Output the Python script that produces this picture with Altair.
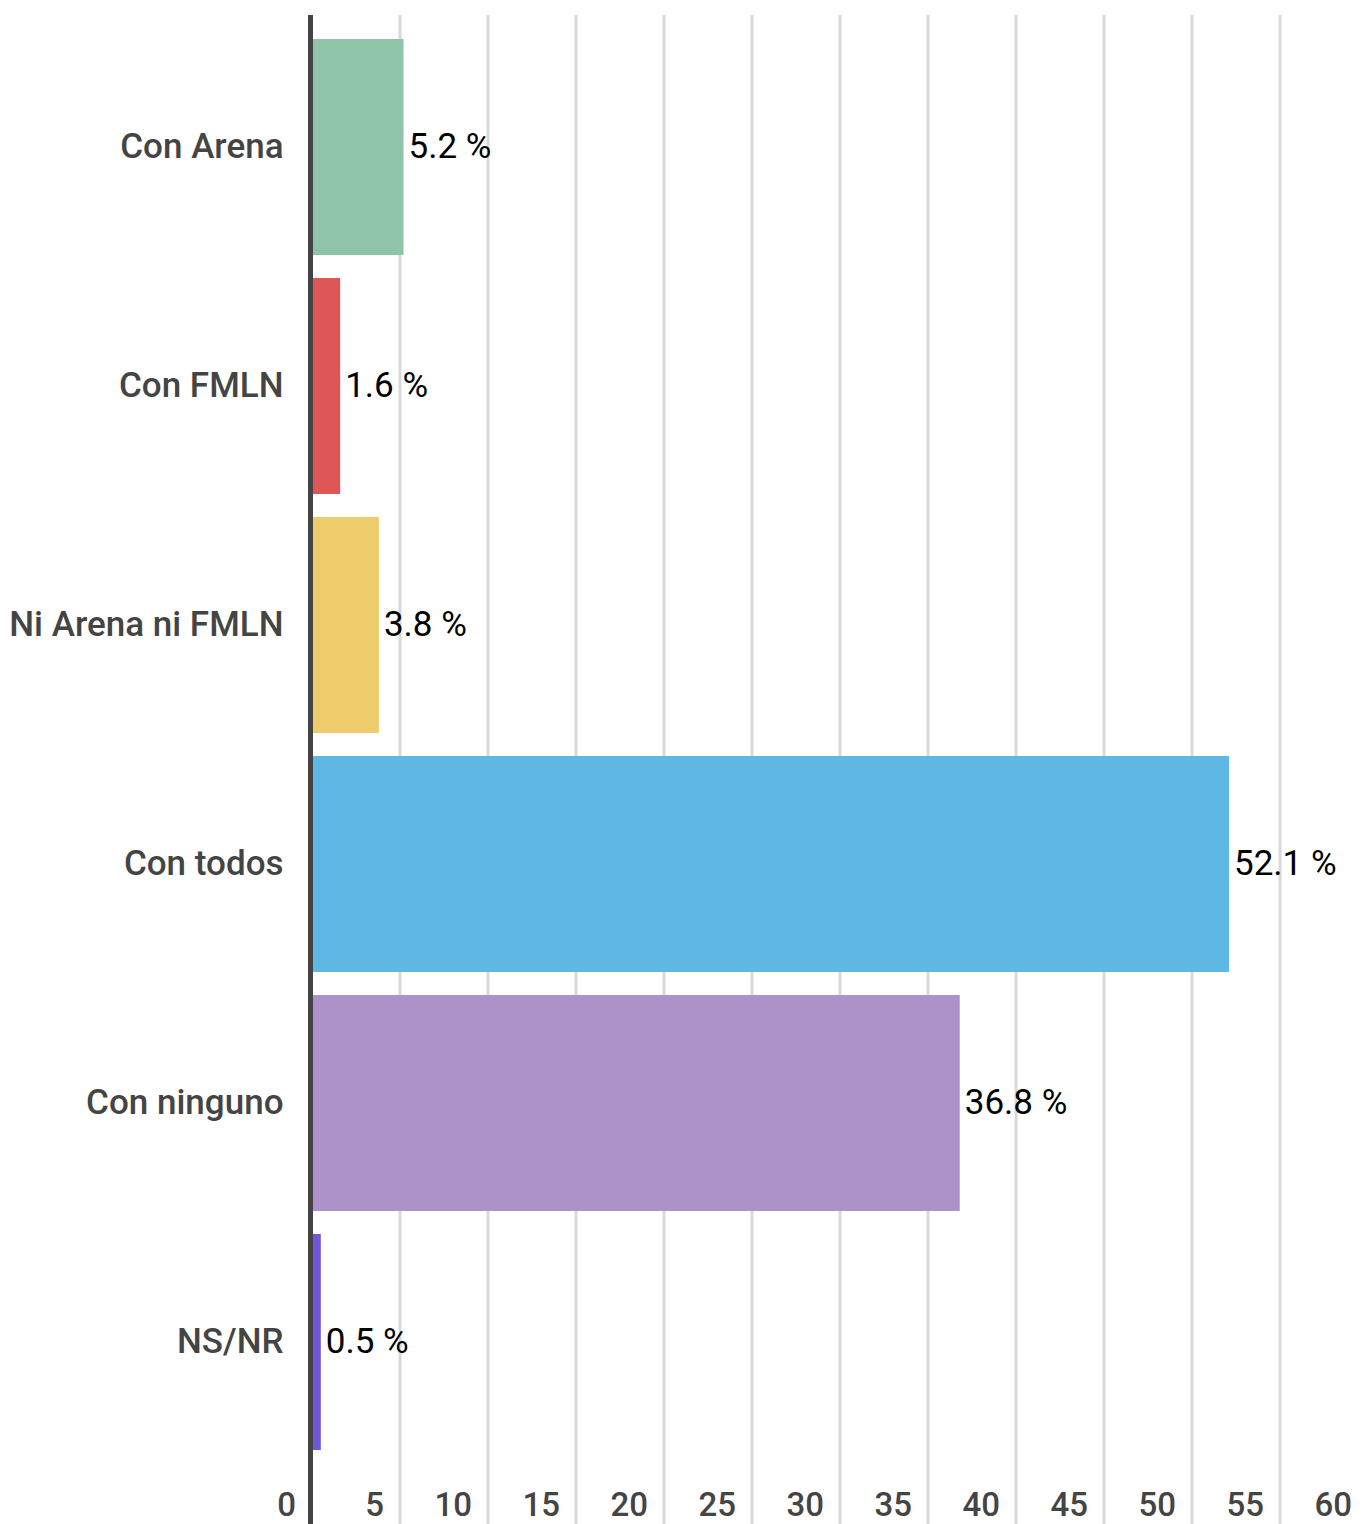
import altair as alt
import pandas as pd

categories = ["Con Arena", "Con FMLN", "Ni Arena ni FMLN", "Con todos", "Con ninguno", "NS/NR"]
values = [5.2, 1.6, 3.8, 52.1, 36.8, 0.5]
colors = ["#8fc4a8", "#df5656", "#eecb6b", "#5fb7e4", "#ac92c8", "#7256d8"]
ticks = [0, 5, 10, 15, 20, 25, 30, 35, 40, 45, 50, 55, 60]

bars_df = pd.DataFrame({"categoria": categories, "valor": values})
ticks_df = pd.DataFrame({"tick": ticks})

W = 1042
H = 1509
FONT = "Roboto"

xscale = alt.Scale(domain=[0, 59.2], nice=False, zero=False)
yscale = alt.Scale(domain=categories, range=[24, 1435], paddingInner=23 / 239, paddingOuter=0)
yaxis = alt.Axis(domain=False, ticks=False, grid=False, labelPadding=29, labelFont=FONT,
                 labelFontSize=35, labelFontWeight=500, labelColor="#444444", labelLimit=600)

grid = alt.Chart(ticks_df).transform_filter("datum.tick > 0").mark_rule(
    color="#d9d9d9", strokeWidth=3
).encode(x=alt.X("tick:Q", scale=xscale, axis=None))

bars = alt.Chart(bars_df).mark_bar().encode(
    y=alt.Y("categoria:N", sort=categories, scale=yscale, title=None, axis=yaxis),
    x=alt.X("valor:Q", scale=xscale, axis=None),
    color=alt.Color("categoria:N", scale=alt.Scale(domain=categories, range=colors), legend=None),
)

zero = alt.Chart(ticks_df).transform_filter("datum.tick == 0").mark_rule(
    color="#444444", strokeWidth=5, xOffset=-1.5
).encode(x=alt.X("tick:Q", scale=xscale, axis=None))

labels = alt.Chart(bars_df).transform_calculate(
    etiqueta="format(datum.valor, '.1f') + ' %'"
).mark_text(align="left", baseline="middle", dx=5, font=FONT, fontSize=35, color="#000000").encode(
    y=alt.Y("categoria:N", sort=categories, scale=yscale, title=None, axis=yaxis),
    x=alt.X("valor:Q", scale=xscale, axis=None),
    text="etiqueta:N",
)

tick_labels = alt.Chart(ticks_df).mark_text(
    align="right", baseline="alphabetic", dx=-16, font=FONT, fontSize=33, fontWeight=500, color="#444444"
).encode(
    x=alt.X("tick:Q", scale=xscale, axis=None),
    y=alt.value(1501),
    text="tick:Q",
)

chart = alt.layer(grid, bars, zero, labels, tick_labels).properties(
    width=W,
    height=H,
    padding={"left": 304, "top": 7, "right": 0, "bottom": 0},
    autosize=alt.AutoSizeParams(type="none"),
).configure_view(stroke=None)

chart.save("out.html", embed_options={"renderer": "svg", "actions": False})
